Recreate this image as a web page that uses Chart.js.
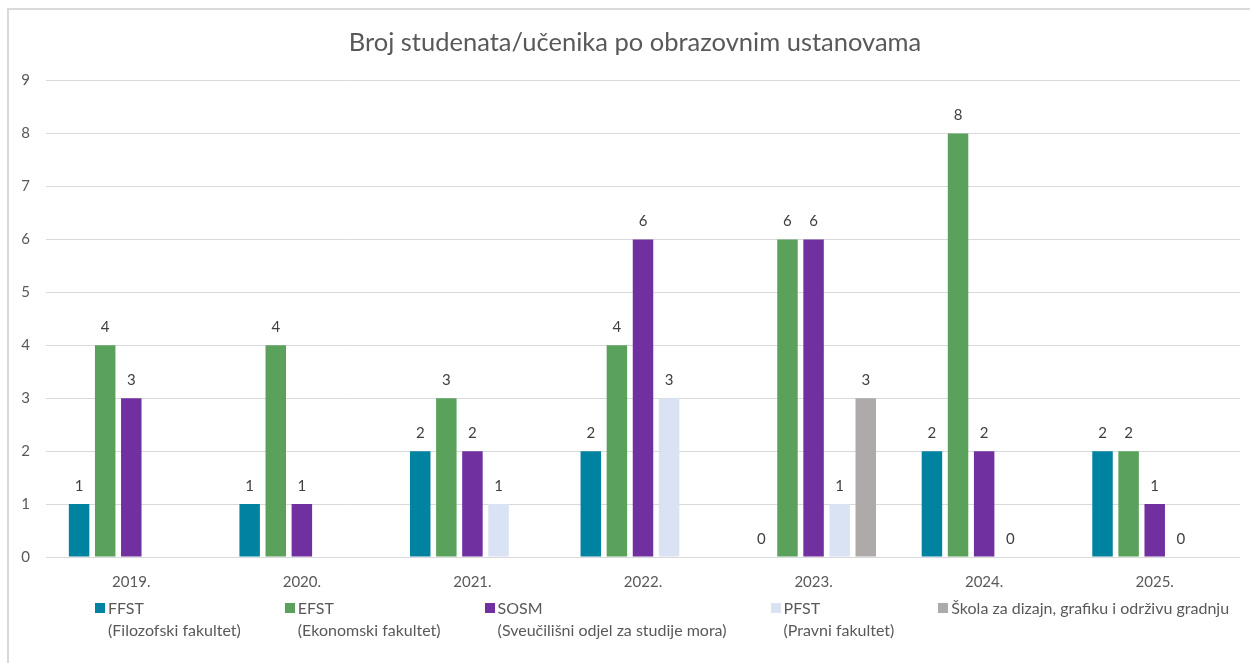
<!DOCTYPE html>
<html>
<head>
<meta charset="utf-8">
<script src="https://cdn.jsdelivr.net/npm/chart.js@4/dist/chart.umd.min.js"></script>
<style>
  html, body { margin: 0; padding: 0; background: #fff; overflow: hidden; }
  #frame { position: absolute; left: 7px; top: 8px; width: 1300px; height: 700px;
           border-left: 2px solid #d9d9d9; border-top: 2px solid #d9d9d9; }
  #wrap { position: absolute; left: 0; top: 0; width: 1250px; height: 663px; }
  #legend { position: absolute; left: 95px; top: 597px; display: flex; gap: 44px;
            font-family: Lato, sans-serif; font-size: 16px; line-height: 22px; color: #595959; white-space: nowrap; }
  #legend .item { display: flex; align-items: flex-start; }
  #legend .box { width: 10px; height: 10px; margin: 6px 3px 0 0; flex: none; }
</style>
</head>
<body>
<div id="frame"></div>
<div id="wrap"><canvas id="ChartCanvas"></canvas></div>
<div id="legend"></div>
<script>
var years = ["2019.", "2020.", "2021.", "2022.", "2023.", "2024.", "2025."];

var ffst = [1, 1, 2, 2, 0, 2, 2];
var efst = [4, 4, 3, 4, 6, 8, 2];
var sosm = [3, 1, 2, 6, 6, 2, 1];
var pfst = [null, null, 1, 3, 1, 0, 0];
var skola = [null, null, null, null, 3, null, null];

var yTicks = [0, 1, 2, 3, 4, 5, 6, 7, 8, 9];

var textColor = '#595959';
var fontName = 'Lato';

var barChart = document.getElementById("ChartCanvas").getContext("2d");

// labels above bars (also for zero values, not for empty ones)
var valueLabels = {
    id: 'valueLabels',
    afterLayout: function(chart)
    {
        chart.titleBlock.left += 30; // title sits a bit right of the canvas middle
    },
    afterDatasetsDraw: function(chart)
    {
        var ctx = chart.ctx;
        ctx.save();
        ctx.font = '15px ' + fontName;
        ctx.fillStyle = '#404040';
        ctx.textAlign = 'center';
        ctx.textBaseline = 'middle';
        chart.data.datasets.forEach(function(ds, i)
        {
            var meta = chart.getDatasetMeta(i);
            meta.data.forEach(function(bar, j)
            {
                if (ds.data[j] === null) return;
                ctx.fillText(String(ds.data[j]), bar.x, bar.y - 18);
            });
        });
        ctx.restore();
    }
};

var data =
{
    labels: years,
    datasets:
    [
        { label: ["FFST", "(Filozofski fakultet)"], data: ffst, backgroundColor: '#0083A0' },
        { label: ["EFST", "(Ekonomski fakultet)"], data: efst, backgroundColor: '#5AA25C' },
        { label: ["SOSM", "(Sveučilišni odjel za studije mora)"], data: sosm, backgroundColor: '#7030A0' },
        { label: ["PFST", "(Pravni fakultet)"], data: pfst, backgroundColor: '#DAE3F3' },
        { label: ["Škola za dizajn, grafiku i održivu gradnju"], data: skola, backgroundColor: '#AEAAAA' }
    ]
};

var config =
{
    type: 'bar',
    data: data,
    options:
    {
        responsive: true,
        maintainAspectRatio: false,
        animation: false,
        categoryPercentage: 0.765,
        barPercentage: 0.785,
        layout: { padding: { left: 0, right: 10, top: 0, bottom: 72 } },
        plugins:
        {
            title:
            {
                display: true,
                text: 'Broj studenata/učenika po obrazovnim ustanovama',
                color: textColor,
                font: { family: fontName, size: 25.5, weight: 'normal' },
                padding: { top: 27, bottom: 23 }
            },
            legend: { display: false },
            tooltip: { enabled: false }
        },
        scales:
        {
            x:
            {
                grid: { display: false, drawTicks: false },
                border: { display: false },
                afterFit: function(scale) { scale.height = 34; },
                ticks: { color: textColor, font: { family: fontName, size: 15 }, padding: 16 }
            },
            y:
            {
                min: 0,
                max: 9,
                afterFit: function(scale) { scale.width = 46; },
                afterBuildTicks: function(scale) { scale.ticks = yTicks.map(function(v) { return { value: v }; }); },
                grid: { color: '#d9d9d9', lineWidth: 1, drawTicks: false },
                border: { display: false },
                ticks: { color: textColor, font: { family: fontName, size: 15 }, padding: 16 }
            }
        }
    },
    plugins: [valueLabels]
};

var createdChart = new Chart(barChart, config);

// legend below the chart, two lines per entry
var legendBox = document.getElementById("legend");
data.datasets.forEach(function(ds)
{
    var item = document.createElement("div");
    item.className = "item";
    var box = document.createElement("span");
    box.className = "box";
    box.style.background = ds.backgroundColor;
    var txt = document.createElement("div");
    ds.label.forEach(function(line)
    {
        var l = document.createElement("div");
        l.textContent = line;
        txt.appendChild(l);
    });
    item.appendChild(box);
    item.appendChild(txt);
    legendBox.appendChild(item);
});
</script>
</body>
</html>
